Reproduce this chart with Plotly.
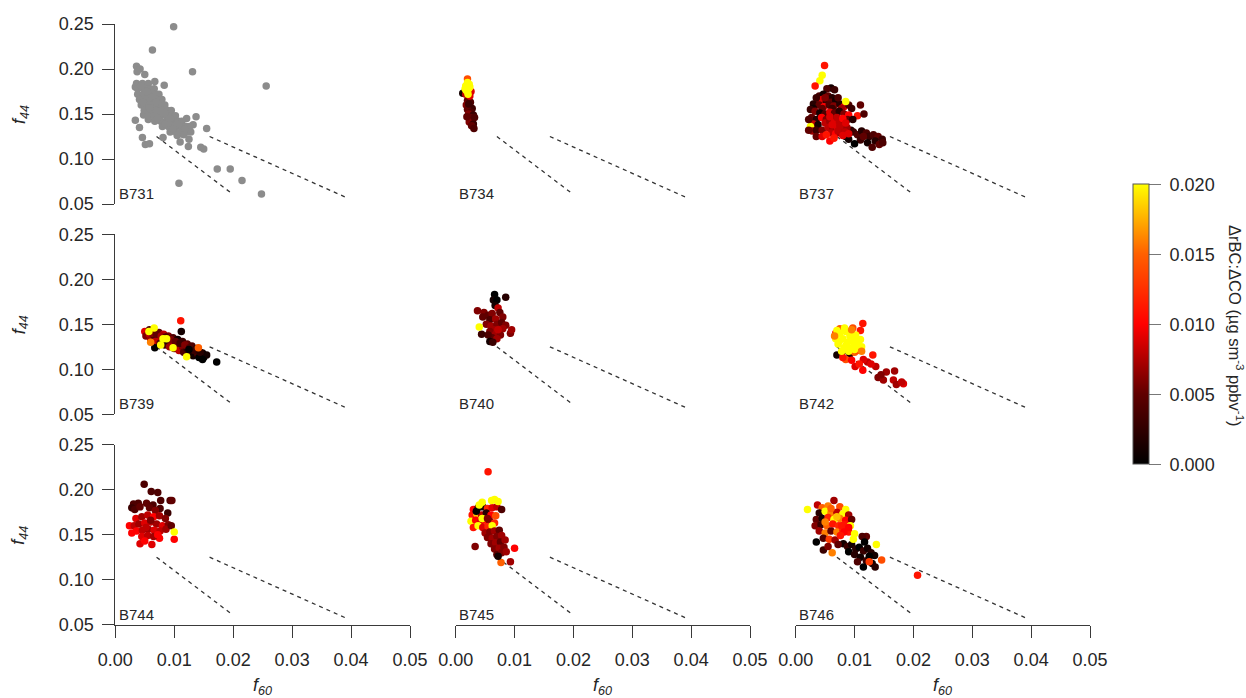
import plotly.graph_objects as go

# ---------------------------------------------------------------------------
# Axis ticks
F60_TICKS = [0.00, 0.01, 0.02, 0.03, 0.04, 0.05]
F44_TICKS = [0.05, 0.10, 0.15, 0.20, 0.25]
RATIO_TICKS = [0.000, 0.005, 0.010, 0.015, 0.020]

# Dashed reference lines in f60-f44 space
LINE_A_F60 = [0.007, 0.0198]
LINE_A_F44 = [0.125, 0.0615]
LINE_B_F60 = [0.016, 0.0395]
LINE_B_F44 = [0.125, 0.0563]

FLIGHTS = ["B731", "B734", "B737", "B739", "B740", "B742", "B744", "B745", "B746"]

# ---------------------------------------------------------------------------
# Per-flight observations: (f60, f44) for B731 (no rBC:CO available),
# (f60, f44, delta rBC : delta CO) for the others
B731_pts = [
    # scattered samples
    (0.0099, 0.247), (0.0063, 0.221), (0.0131, 0.197), (0.0256, 0.181),
    (0.0036, 0.203), (0.0042, 0.200), (0.0037, 0.197), (0.0050, 0.194),
    (0.0067, 0.186), (0.0083, 0.182), (0.0034, 0.180), (0.0034, 0.143),
    (0.0041, 0.135), (0.0046, 0.124), (0.0051, 0.116), (0.0058, 0.117),
    (0.0048, 0.149), (0.0056, 0.144), (0.0081, 0.124), (0.0110, 0.119),
    (0.0108, 0.073), (0.0124, 0.114), (0.0125, 0.122), (0.0137, 0.147),
    (0.0155, 0.134), (0.0145, 0.113), (0.0150, 0.111), (0.0173, 0.089),
    (0.0195, 0.089), (0.0215, 0.076), (0.0248, 0.061), (0.0121, 0.145),
    (0.0132, 0.138), (0.0128, 0.130), (0.0105, 0.126),
    # main band
    (0.0036, 0.184), (0.0046, 0.184), (0.0056, 0.184),
    (0.0038, 0.178), (0.0048, 0.178), (0.0058, 0.178), (0.0066, 0.178),
    (0.0038, 0.172), (0.0048, 0.172), (0.0058, 0.172), (0.0068, 0.172),
    (0.0074, 0.172),
    (0.0041, 0.166), (0.0051, 0.166), (0.0061, 0.166), (0.0071, 0.166),
    (0.0079, 0.166),
    (0.0044, 0.160), (0.0054, 0.160), (0.0064, 0.160), (0.0074, 0.160),
    (0.0084, 0.160),
    (0.0049, 0.154), (0.0059, 0.154), (0.0069, 0.154), (0.0079, 0.154),
    (0.0089, 0.154), (0.0095, 0.154),
    (0.0056, 0.148), (0.0066, 0.148), (0.0076, 0.148), (0.0086, 0.148),
    (0.0096, 0.148), (0.0102, 0.148),
    (0.0067, 0.142), (0.0077, 0.142), (0.0087, 0.142), (0.0097, 0.142),
    (0.0107, 0.142), (0.0113, 0.142),
    (0.0080, 0.136), (0.0090, 0.136), (0.0100, 0.136), (0.0110, 0.136),
    (0.0120, 0.136), (0.0126, 0.136),
    (0.0093, 0.130), (0.0103, 0.130), (0.0113, 0.130), (0.0122, 0.130),
    (0.0043, 0.181), (0.0053, 0.175), (0.0063, 0.169), (0.0069, 0.163),
    (0.0047, 0.163), (0.0058, 0.157), (0.0084, 0.151), (0.0072, 0.145),
    (0.0092, 0.145), (0.0085, 0.139), (0.0105, 0.139), (0.0118, 0.133),
    (0.0098, 0.133), (0.0108, 0.128), (0.0116, 0.127),
]

B734_pts = [
    (0.0012, 0.173, 0.001),
    (0.0020, 0.165, 0.005), (0.0025, 0.163, 0.004), (0.0018, 0.160, 0.006),
    (0.0024, 0.158, 0.004), (0.0028, 0.156, 0.003), (0.0020, 0.155, 0.005),
    (0.0026, 0.152, 0.004), (0.0022, 0.150, 0.006), (0.0030, 0.149, 0.003),
    (0.0025, 0.146, 0.005), (0.0028, 0.143, 0.004), (0.0023, 0.141, 0.006),
    (0.0030, 0.139, 0.003), (0.0027, 0.137, 0.005), (0.0031, 0.134, 0.004),
    (0.0019, 0.147, 0.005), (0.0032, 0.146, 0.004), (0.0022, 0.161, 0.003),
    (0.0024, 0.170, 0.009), (0.0017, 0.172, 0.008), (0.0026, 0.175, 0.009),
    (0.0020, 0.189, 0.014),
    (0.0018, 0.176, 0.020), (0.0022, 0.178, 0.020), (0.0017, 0.181, 0.020),
    (0.0023, 0.183, 0.020), (0.0020, 0.185, 0.020), (0.0016, 0.178, 0.020),
    (0.0024, 0.180, 0.020), (0.0021, 0.172, 0.020),
]

B737_pts = [
    (0.0049, 0.204, 0.011), (0.0045, 0.193, 0.020), (0.0041, 0.187, 0.020),
    (0.0033, 0.181, 0.011), (0.0060, 0.179, 0.001), (0.0066, 0.177, 0.003),
    (0.0053, 0.178, 0.004),
    (0.0040, 0.170, 0.004), (0.0047, 0.172, 0.001), (0.0055, 0.170, 0.005),
    (0.0062, 0.168, 0.002), (0.0037, 0.165, 0.006), (0.0045, 0.166, 0.009),
    (0.0052, 0.164, 0.003), (0.0060, 0.163, 0.005), (0.0068, 0.165, 0.001),
    (0.0030, 0.161, 0.002), (0.0040, 0.160, 0.005), (0.0048, 0.158, 0.010),
    (0.0057, 0.160, 0.004), (0.0065, 0.159, 0.006), (0.0075, 0.161, 0.002),
    (0.0082, 0.158, 0.009), (0.0090, 0.160, 0.004), (0.0110, 0.160, 0.005),
    (0.0085, 0.164, 0.020),
    (0.0035, 0.168, 0.003), (0.0050, 0.168, 0.006), (0.0072, 0.168, 0.004),
    (0.0030, 0.156, 0.001), (0.0045, 0.156, 0.005), (0.0062, 0.156, 0.003),
    (0.0078, 0.156, 0.007), (0.0095, 0.156, 0.003),
    (0.0025, 0.155, 0.003), (0.0033, 0.153, 0.006), (0.0041, 0.151, 0.001),
    (0.0050, 0.150, 0.004), (0.0058, 0.152, 0.009), (0.0066, 0.151, 0.005),
    (0.0074, 0.153, 0.002), (0.0082, 0.150, 0.006), (0.0090, 0.149, 0.010),
    (0.0105, 0.148, 0.011), (0.0116, 0.150, 0.004), (0.0027, 0.146, 0.005),
    (0.0035, 0.144, 0.002), (0.0044, 0.146, 0.010), (0.0030, 0.139, 0.008),
    (0.0038, 0.138, 0.001), (0.0025, 0.136, 0.020), (0.0028, 0.131, 0.007),
    (0.0022, 0.144, 0.004), (0.0052, 0.144, 0.006), (0.0061, 0.144, 0.001),
    (0.0088, 0.144, 0.005), (0.0097, 0.144, 0.002),
    (0.0022, 0.132, 0.005), (0.0035, 0.132, 0.003), (0.0045, 0.132, 0.006),
    (0.0094, 0.132, 0.002), (0.0035, 0.125, 0.005), (0.0045, 0.125, 0.009),
    (0.0085, 0.125, 0.001),
    (0.0098, 0.130, 0.003), (0.0105, 0.127, 0.004), (0.0112, 0.131, 0.002),
    (0.0120, 0.129, 0.004), (0.0125, 0.125, 0.003), (0.0132, 0.127, 0.004),
    (0.0140, 0.125, 0.005), (0.0147, 0.122, 0.003), (0.0135, 0.120, 0.002),
    (0.0142, 0.116, 0.005), (0.0122, 0.118, 0.001), (0.0110, 0.121, 0.003),
    (0.0100, 0.117, 0.000), (0.0090, 0.122, 0.001), (0.0148, 0.118, 0.004),
    (0.0130, 0.113, 0.004), (0.0058, 0.120, 0.010), (0.0115, 0.125, 0.005),
    (0.0050, 0.140, 0.008), (0.0058, 0.142, 0.007), (0.0066, 0.141, 0.009),
    (0.0074, 0.140, 0.008), (0.0082, 0.139, 0.007), (0.0055, 0.135, 0.008),
    (0.0063, 0.134, 0.007), (0.0071, 0.135, 0.009), (0.0079, 0.134, 0.008),
    (0.0087, 0.135, 0.007), (0.0060, 0.129, 0.008), (0.0068, 0.128, 0.010),
    (0.0076, 0.129, 0.007), (0.0084, 0.130, 0.008), (0.0090, 0.128, 0.009),
    (0.0052, 0.127, 0.011), (0.0065, 0.123, 0.011),
    (0.0058, 0.147, 0.009), (0.0070, 0.146, 0.008), (0.0080, 0.145, 0.010),
    (0.0062, 0.138, 0.009), (0.0075, 0.137, 0.008), (0.0085, 0.140, 0.009),
    (0.0072, 0.131, 0.008), (0.0080, 0.126, 0.009),
]

B739_pts = [
    (0.0050, 0.142, 0.009), (0.0052, 0.137, 0.006),
    (0.0058, 0.144, 0.004), (0.0058, 0.139, 0.008), (0.0060, 0.133, 0.007),
    (0.0066, 0.142, 0.007), (0.0066, 0.137, 0.004), (0.0068, 0.131, 0.008),
    (0.0074, 0.141, 0.005), (0.0074, 0.135, 0.008), (0.0076, 0.129, 0.004),
    (0.0082, 0.139, 0.008), (0.0082, 0.133, 0.006), (0.0084, 0.127, 0.003),
    (0.0090, 0.137, 0.006), (0.0090, 0.131, 0.002), (0.0092, 0.125, 0.007),
    (0.0098, 0.135, 0.004), (0.0098, 0.129, 0.007), (0.0100, 0.123, 0.005),
    (0.0106, 0.133, 0.001), (0.0106, 0.127, 0.005), (0.0108, 0.121, 0.008),
    (0.0114, 0.131, 0.003), (0.0114, 0.125, 0.006), (0.0116, 0.119, 0.004),
    (0.0122, 0.128, 0.005), (0.0122, 0.123, 0.002), (0.0124, 0.117, 0.003),
    (0.0130, 0.126, 0.004), (0.0130, 0.120, 0.006), (0.0132, 0.115, 0.001),
    (0.0138, 0.123, 0.002), (0.0140, 0.117, 0.004), (0.0142, 0.113, 0.000),
    (0.0148, 0.118, 0.001), (0.0150, 0.113, 0.000), (0.0155, 0.116, 0.001),
    (0.0062, 0.140, 0.006), (0.0070, 0.139, 0.005), (0.0078, 0.137, 0.007),
    (0.0086, 0.136, 0.004), (0.0094, 0.133, 0.006), (0.0102, 0.131, 0.005),
    (0.0110, 0.129, 0.003), (0.0118, 0.127, 0.006), (0.0126, 0.124, 0.004),
    (0.0134, 0.121, 0.003), (0.0144, 0.119, 0.002),
    (0.0111, 0.154, 0.011), (0.0172, 0.108, 0.000), (0.0141, 0.124, 0.015),
    (0.0067, 0.124, 0.000), (0.0112, 0.142, 0.001), (0.0125, 0.122, 0.000),
    (0.0148, 0.111, 0.000),
    (0.0060, 0.130, 0.016),
    (0.0057, 0.142, 0.020), (0.0066, 0.146, 0.020), (0.0081, 0.134, 0.020),
    (0.0087, 0.134, 0.020), (0.0077, 0.127, 0.020), (0.0098, 0.124, 0.020),
    (0.0121, 0.114, 0.020),
]

B740_pts = [
    (0.0066, 0.183, 0.000), (0.0064, 0.177, 0.001), (0.0070, 0.177, 0.000),
    (0.0085, 0.180, 0.002), (0.0067, 0.171, 0.001), (0.0072, 0.168, 0.008),
    (0.0037, 0.165, 0.006), (0.0048, 0.163, 0.006), (0.0046, 0.158, 0.005),
    (0.0055, 0.160, 0.005), (0.0062, 0.162, 0.006), (0.0075, 0.163, 0.005),
    (0.0080, 0.158, 0.006), (0.0058, 0.155, 0.004), (0.0068, 0.156, 0.007),
    (0.0052, 0.150, 0.006), (0.0060, 0.148, 0.007), (0.0070, 0.150, 0.006),
    (0.0078, 0.152, 0.005), (0.0085, 0.149, 0.006), (0.0065, 0.144, 0.007),
    (0.0072, 0.143, 0.008), (0.0080, 0.145, 0.007), (0.0058, 0.142, 0.006),
    (0.0068, 0.139, 0.007), (0.0076, 0.138, 0.006), (0.0062, 0.135, 0.005),
    (0.0070, 0.134, 0.007), (0.0055, 0.138, 0.004), (0.0093, 0.140, 0.006),
    (0.0095, 0.144, 0.007), (0.0044, 0.139, 0.003), (0.0058, 0.131, 0.001),
    (0.0063, 0.130, 0.003), (0.0072, 0.144, 0.008), (0.0040, 0.147, 0.020),
]

B742_pts = [
    (0.0070, 0.116, 0.001), (0.0078, 0.118, 0.003), (0.0092, 0.117, 0.002),
    (0.0085, 0.111, 0.014), (0.0080, 0.113, 0.011), (0.0100, 0.119, 0.015),
    (0.0105, 0.121, 0.014), (0.0114, 0.151, 0.011), (0.0110, 0.143, 0.011),
    (0.0097, 0.146, 0.014), (0.0075, 0.145, 0.015), (0.0068, 0.140, 0.012),
    (0.0131, 0.116, 0.011), (0.0122, 0.108, 0.008), (0.0115, 0.111, 0.009),
    (0.0136, 0.103, 0.008), (0.0114, 0.099, 0.010), (0.0101, 0.103, 0.009),
    (0.0154, 0.097, 0.007), (0.0168, 0.098, 0.007), (0.0140, 0.091, 0.006),
    (0.0149, 0.088, 0.007), (0.0166, 0.088, 0.008), (0.0183, 0.084, 0.009),
    (0.0171, 0.083, 0.007), (0.0180, 0.086, 0.008), (0.0145, 0.094, 0.006),
    (0.0128, 0.106, 0.009), (0.0108, 0.106, 0.011), (0.0095, 0.110, 0.010),
    (0.0068, 0.134, 0.020), (0.0072, 0.128, 0.020), (0.0075, 0.140, 0.020),
    (0.0080, 0.134, 0.020), (0.0082, 0.124, 0.020), (0.0085, 0.142, 0.020),
    (0.0088, 0.130, 0.020), (0.0092, 0.137, 0.020), (0.0095, 0.124, 0.020),
    (0.0098, 0.131, 0.020), (0.0102, 0.138, 0.020), (0.0105, 0.127, 0.020),
    (0.0110, 0.133, 0.020), (0.0078, 0.120, 0.020), (0.0090, 0.120, 0.020),
    (0.0100, 0.122, 0.020), (0.0112, 0.125, 0.020), (0.0070, 0.143, 0.020),
    (0.0083, 0.146, 0.020), (0.0074, 0.131, 0.020), (0.0086, 0.127, 0.020),
    (0.0095, 0.140, 0.020), (0.0104, 0.133, 0.020),
    (0.0095, 0.144, 0.016), (0.0112, 0.120, 0.016), (0.0066, 0.137, 0.016),
]

B744_pts = [
    (0.0049, 0.206, 0.004), (0.0061, 0.198, 0.004), (0.0072, 0.197, 0.004),
    (0.0093, 0.188, 0.004), (0.0096, 0.188, 0.005), (0.0077, 0.188, 0.004),
    (0.0053, 0.185, 0.005), (0.0039, 0.185, 0.004), (0.0031, 0.184, 0.004),
    (0.0028, 0.180, 0.003), (0.0033, 0.178, 0.004), (0.0042, 0.181, 0.005),
    (0.0064, 0.183, 0.004), (0.0076, 0.179, 0.004), (0.0089, 0.174, 0.003),
    (0.0058, 0.180, 0.005), (0.0068, 0.177, 0.006),
    (0.0024, 0.160, 0.010), (0.0028, 0.152, 0.010), (0.0042, 0.140, 0.009),
    (0.0062, 0.139, 0.009), (0.0075, 0.146, 0.010), (0.0100, 0.145, 0.010),
    (0.0035, 0.168, 0.009), (0.0045, 0.170, 0.007), (0.0055, 0.172, 0.008),
    (0.0065, 0.170, 0.010), (0.0075, 0.171, 0.007), (0.0085, 0.168, 0.006),
    (0.0032, 0.160, 0.008), (0.0040, 0.162, 0.007), (0.0050, 0.163, 0.009),
    (0.0060, 0.164, 0.008), (0.0070, 0.162, 0.007), (0.0080, 0.160, 0.009),
    (0.0090, 0.161, 0.006), (0.0036, 0.154, 0.010), (0.0046, 0.155, 0.008),
    (0.0056, 0.156, 0.007), (0.0066, 0.155, 0.009), (0.0076, 0.154, 0.008),
    (0.0086, 0.156, 0.007), (0.0095, 0.160, 0.005), (0.0045, 0.148, 0.009),
    (0.0055, 0.149, 0.008), (0.0065, 0.148, 0.007), (0.0072, 0.150, 0.010),
    (0.0050, 0.143, 0.010), (0.0060, 0.166, 0.006), (0.0052, 0.158, 0.008),
    (0.0100, 0.153, 0.020),
]

B745_pts = [
    (0.0055, 0.220, 0.011),
    (0.0030, 0.178, 0.010), (0.0038, 0.180, 0.004), (0.0046, 0.181, 0.001),
    (0.0054, 0.179, 0.012), (0.0062, 0.180, 0.009), (0.0070, 0.181, 0.008),
    (0.0078, 0.178, 0.004), (0.0028, 0.172, 0.011), (0.0036, 0.173, 0.018),
    (0.0044, 0.172, 0.008), (0.0052, 0.174, 0.002), (0.0060, 0.172, 0.010),
    (0.0068, 0.171, 0.014), (0.0026, 0.165, 0.020), (0.0034, 0.166, 0.010),
    (0.0042, 0.164, 0.009), (0.0050, 0.166, 0.011), (0.0058, 0.165, 0.006),
    (0.0066, 0.163, 0.012), (0.0030, 0.158, 0.011), (0.0038, 0.160, 0.020),
    (0.0046, 0.158, 0.009), (0.0055, 0.159, 0.012), (0.0062, 0.160, 0.020),
    (0.0035, 0.176, 0.000), (0.0045, 0.168, 0.020), (0.0054, 0.168, 0.006),
    (0.0050, 0.152, 0.007), (0.0058, 0.153, 0.006), (0.0066, 0.154, 0.007),
    (0.0074, 0.155, 0.005), (0.0054, 0.147, 0.006), (0.0062, 0.146, 0.007),
    (0.0070, 0.148, 0.006), (0.0078, 0.149, 0.007), (0.0060, 0.140, 0.006),
    (0.0068, 0.141, 0.007), (0.0076, 0.142, 0.005), (0.0084, 0.144, 0.007),
    (0.0066, 0.134, 0.006), (0.0074, 0.135, 0.007), (0.0082, 0.136, 0.006),
    (0.0070, 0.128, 0.005), (0.0078, 0.130, 0.006), (0.0086, 0.131, 0.007),
    (0.0033, 0.137, 0.006), (0.0100, 0.135, 0.010), (0.0093, 0.120, 0.007),
    (0.0077, 0.119, 0.015), (0.0072, 0.126, 0.001),
    (0.0061, 0.188, 0.020), (0.0066, 0.189, 0.020), (0.0072, 0.187, 0.020),
    (0.0045, 0.186, 0.020), (0.0040, 0.183, 0.020),
]

B746_pts = [
    (0.0081, 0.140, 0.001), (0.0088, 0.137, 0.003), (0.0095, 0.139, 0.001),
    (0.0102, 0.134, 0.002), (0.0108, 0.136, 0.000), (0.0115, 0.132, 0.003),
    (0.0122, 0.135, 0.001), (0.0128, 0.130, 0.002), (0.0134, 0.127, 0.001),
    (0.0090, 0.131, 0.000), (0.0100, 0.128, 0.002), (0.0110, 0.125, 0.001),
    (0.0120, 0.121, 0.003), (0.0130, 0.118, 0.001), (0.0135, 0.114, 0.002),
    (0.0115, 0.114, 0.000), (0.0105, 0.120, 0.004), (0.0125, 0.126, 0.000),
    (0.0120, 0.148, 0.005), (0.0113, 0.148, 0.004), (0.0117, 0.142, 0.000),
    (0.0020, 0.178, 0.020), (0.0037, 0.183, 0.008), (0.0065, 0.188, 0.007),
    (0.0045, 0.180, 0.015), (0.0055, 0.182, 0.016), (0.0075, 0.181, 0.014),
    (0.0085, 0.178, 0.020), (0.0040, 0.174, 0.002), (0.0050, 0.176, 0.020),
    (0.0060, 0.174, 0.016), (0.0070, 0.175, 0.008), (0.0080, 0.173, 0.020),
    (0.0090, 0.172, 0.007), (0.0035, 0.167, 0.005), (0.0045, 0.168, 0.001),
    (0.0055, 0.169, 0.012), (0.0065, 0.167, 0.020), (0.0075, 0.168, 0.016),
    (0.0085, 0.166, 0.010), (0.0095, 0.167, 0.005), (0.0033, 0.160, 0.006),
    (0.0043, 0.161, 0.003), (0.0053, 0.160, 0.015), (0.0063, 0.162, 0.011),
    (0.0073, 0.160, 0.012), (0.0083, 0.161, 0.011), (0.0093, 0.160, 0.020),
    (0.0040, 0.154, 0.007), (0.0050, 0.152, 0.016), (0.0060, 0.154, 0.005),
    (0.0070, 0.153, 0.016), (0.0080, 0.155, 0.012), (0.0090, 0.153, 0.011),
    (0.0100, 0.151, 0.020), (0.0035, 0.142, 0.000), (0.0047, 0.146, 0.004),
    (0.0057, 0.145, 0.013), (0.0067, 0.144, 0.007), (0.0062, 0.130, 0.016),
    (0.0047, 0.133, 0.003), (0.0055, 0.137, 0.006), (0.0072, 0.139, 0.005),
    (0.0050, 0.164, 0.016), (0.0060, 0.179, 0.015), (0.0070, 0.170, 0.018),
    (0.0078, 0.160, 0.011), (0.0086, 0.157, 0.011), (0.0082, 0.153, 0.010),
    (0.0090, 0.158, 0.010), (0.0076, 0.149, 0.011),
    (0.0098, 0.145, 0.020), (0.0137, 0.139, 0.020), (0.0146, 0.122, 0.014),
    (0.0207, 0.105, 0.011), (0.0125, 0.120, 0.013),
]

PANEL_POINTS = [B731_pts, B734_pts, B737_pts, B739_pts, B740_pts,
                B742_pts, B744_pts, B745_pts, B746_pts]

# ---------------------------------------------------------------------------
W, H = 1246, 698
COL_PX = [(115.3, 410.0), (455.7, 750.0), (795.7, 1090.0)]
ROW_PX = [(24.0, 204.0), (234.3, 414.3), (444.7, 624.7)]

FONT = "Liberation Sans, Arial, sans-serif"
TXT = "#262626"
AXC = "#3a3a3a"
MSIZE = 7.5

HOT = [[0.0, "#000000"], [0.25, "#600000"], [0.5, "#ff0000"],
       [0.75, "#ff6000"], [1.0, "#ffff00"]]

fig = go.Figure()
layout = dict(
    width=W, height=H,
    margin=dict(l=0, r=0, t=0, b=0, autoexpand=False),
    paper_bgcolor="white", plot_bgcolor="white",
    showlegend=False,
    font=dict(family=FONT, size=18, color=TXT),
)

annotations = []
for i, (flight, pts) in enumerate(zip(FLIGHTS, PANEL_POINTS)):
    r, c = divmod(i, 3)
    ax = "" if i == 0 else str(i + 1)
    xref, yref = "x" + ax, "y" + ax
    x0, x1 = COL_PX[c]
    y0, y1 = ROW_PX[r]

    layout["xaxis" + ax] = dict(
        domain=[x0 / W, x1 / W], range=[0, 0.05], anchor=yref,
        visible=(r == 2), showgrid=False, zeroline=False,
        showline=True, linecolor=AXC, linewidth=1,
        ticks="outside", ticklen=12, tickcolor=AXC, tickwidth=1,
        tickvals=F60_TICKS, ticktext=[f"{v:.2f}" for v in F60_TICKS],
        tickfont=dict(size=18, color=TXT), ticklabelstandoff=7,
        automargin=False,
    )
    layout["yaxis" + ax] = dict(
        domain=[1 - y1 / H, 1 - y0 / H], range=[0.05, 0.25], anchor=xref,
        visible=(c == 0), showgrid=False, zeroline=False,
        showline=True, linecolor=AXC, linewidth=1,
        ticks="outside", ticklen=12, tickcolor=AXC, tickwidth=1,
        tickvals=F44_TICKS, ticktext=[f"{v:.2f}" for v in F44_TICKS],
        tickfont=dict(size=18, color=TXT), ticklabelstandoff=5,
        automargin=False,
    )

    for lx, ly in ((LINE_A_F60, LINE_A_F44), (LINE_B_F60, LINE_B_F44)):
        fig.add_trace(go.Scatter(
            x=lx, y=ly, xaxis=xref, yaxis=yref, mode="lines",
            line=dict(color="#333333", width=1.3, dash="4px,4px"),
            hoverinfo="skip",
        ))

    xs = [p[0] for p in pts]
    ys = [p[1] for p in pts]
    if len(pts[0]) == 3:
        cs = [p[2] for p in pts]
        marker = dict(size=MSIZE, color=cs, coloraxis="coloraxis",
                      line=dict(width=0))
    else:
        marker = dict(size=MSIZE, color="#8c8c8c", line=dict(width=0))
    fig.add_trace(go.Scatter(
        x=xs, y=ys, xaxis=xref, yaxis=yref, mode="markers",
        marker=marker, cliponaxis=False, name=flight,
    ))

    annotations.append(dict(
        text=flight, xref=xref, yref=yref, x=0.0003, y=0.05,
        xanchor="left", yanchor="bottom", showarrow=False,
        font=dict(size=15, color=TXT),
    ))

    if c == 0:
        annotations.append(dict(
            text="<i>f<sub>44</sub></i>", xref="paper", yref="paper",
            x=20 / W, y=1 - (y0 + y1) / 2 / H, textangle=-90,
            xanchor="center", yanchor="middle", showarrow=False,
            font=dict(size=18, color=TXT),
        ))
    if r == 2:
        annotations.append(dict(
            text="<i>f<sub>60</sub></i>", xref="paper", yref="paper",
            x=(x0 + x1) / 2 / W, y=1 - 686 / H,
            xanchor="center", yanchor="middle", showarrow=False,
            font=dict(size=18, color=TXT),
        ))

# Colour bar title, reading top to bottom
annotations.append(dict(
    text="ΔrBC:ΔCO (µg sm<sup>-3</sup> ppbv<sup>-1</sup>)",
    xref="paper", yref="paper", x=1236 / W, y=1 - 326 / H,
    textangle=90, xanchor="center", yanchor="middle", showarrow=False,
    font=dict(size=16.5, color=TXT),
))

layout["annotations"] = annotations
layout["coloraxis"] = dict(
    cmin=0, cmax=0.02, colorscale=HOT,
    colorbar=dict(
        x=1133 / W, xanchor="left", xpad=0, ypad=0,
        y=1 - 324.3 / H, yanchor="middle",
        len=280, lenmode="pixels", thickness=16, thicknessmode="pixels",
        outlinewidth=1, outlinecolor="#555555",
        ticks="outside", ticklen=12, tickcolor="#777777", tickwidth=1,
        tickvals=RATIO_TICKS, ticktext=[f" {v:.3f}" for v in RATIO_TICKS],
        tickfont=dict(size=18, color=TXT),
    ),
)

fig.update_layout(**layout)
fig.write_html("out.html")
